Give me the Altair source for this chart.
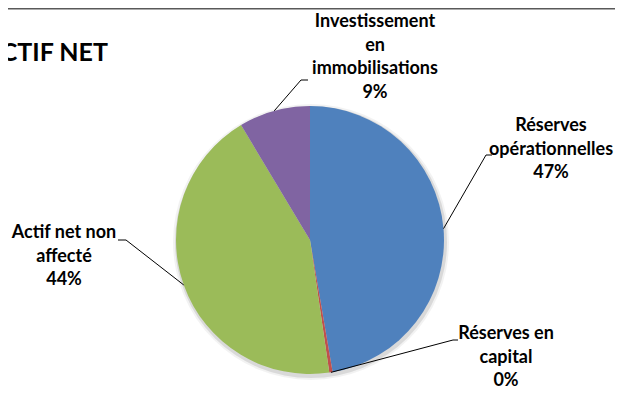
import math
import altair as alt
import pandas as pd

# ---- data ----
categories = ["Réserves opérationnelles", "Réserves en capital",
              "Actif net non affecté", "Investissement en immobilisations"]
values = [47.3, 0.4, 43.7, 8.6]
label_lines = [["Réserves", "opérationnelles"],
               ["Réserves en", "capital"],
               ["Actif net non", "affecté"],
               ["Investissement", "en", "immobilisations"]]
colors = ["#4F81BD", "#C0504D", "#9BBB59", "#8064A2"]
title_text = "ACTIF NET"

# ---- layout (pixels inside the svg; page = svg + 8) ----
W, H = 607, 385
CX, CY, R = 302, 232, 134
FONT = "Lato"
FS = 18
LH = 23.5
label_pos = [(543, 118), (498, 326), (56, 225), (367, 14)]   # centre x, first line y
elbows = [((478, 147), (484, 147)),
          ((445, 332), (450, 332)),
          ((118, 232), (110, 232)),
          ((293, 72), (300, 72))]

total = sum(values)
pie_df = pd.DataFrame({"category": categories, "value": values,
                       "order": list(range(len(categories)))})

# labels
rows = []
for i, cat in enumerate(categories):
    lines = label_lines[i] + [f"{round(values[i] / total * 100)}%"]
    x0, y0 = label_pos[i]
    for j, t in enumerate(lines):
        rows.append({"x": x0, "y": y0 + j * LH, "text": t})
lab_df = pd.DataFrame(rows)

# leader lines: from slice mid-angle on the rim to the elbow
lrows = []
cum = 0.0
for i, cat in enumerate(categories):
    mid = (cum + values[i] / 2) / total * 2 * math.pi
    cum += values[i]
    ax = CX + R * math.sin(mid)
    ay = CY - R * math.cos(mid)
    (ex, ey), (hx, hy) = elbows[i]
    for k, (px, py) in enumerate([(ax, ay), (ex, ey), (hx, hy)]):
        lrows.append({"cat": cat, "k": k, "x": px, "y": py})
lead_df = pd.DataFrame(lrows)

one = pd.DataFrame({"a": [1]})
shadow1 = alt.Chart(one).mark_arc(color="#000000", opacity=0.05, outerRadius=R + 4,
                                  theta=0, theta2=2 * math.pi).encode(
    x=alt.value(CX + 1), y=alt.value(CY + 2))
shadow2 = alt.Chart(one).mark_arc(color="#000000", opacity=0.10, outerRadius=R + 2,
                                  theta=0, theta2=2 * math.pi).encode(
    x=alt.value(CX + 1), y=alt.value(CY + 2))

pie = alt.Chart(pie_df).mark_arc(outerRadius=R).encode(
    theta=alt.Theta("value:Q", stack=True),
    color=alt.Color("category:N", scale=alt.Scale(domain=categories, range=colors), legend=None),
    order=alt.Order("order:Q"),
    x=alt.value(CX),
    y=alt.value(CY),
)

leaders = alt.Chart(lead_df).mark_line(color="#000000", strokeWidth=1).encode(
    x=alt.X("x:Q", scale=None, axis=None),
    y=alt.Y("y:Q", scale=None, axis=None),
    detail="cat:N",
    order="k:Q",
)

labels = alt.Chart(lab_df).mark_text(font=FONT, fontSize=FS, fontWeight="bold",
                                      color="#000000", align="center", baseline="middle").encode(
    x=alt.X("x:Q", scale=None, axis=None),
    y=alt.Y("y:Q", scale=None, axis=None),
    text="text:N",
)

title = alt.Chart(pd.DataFrame({"t": [title_text]})).mark_text(
    font=FONT, fontSize=25, fontWeight="bold", color="#000000",
    align="right", baseline="middle").encode(
    x=alt.value(100), y=alt.value(45), text="t:N")

top_rule = alt.Chart(one).mark_rule(color="#595959", strokeWidth=2).encode(
    x=alt.value(0), x2=alt.value(W), y=alt.value(0.5))

chart = alt.layer(top_rule, shadow1, shadow2, pie, leaders, labels, title).properties(
    width=W, height=H, padding=0,
    autosize=alt.AutoSizeParams(type="none"),
).configure_view(stroke=None)

chart.save("out.html", embed_options={"renderer": "svg", "actions": False})
